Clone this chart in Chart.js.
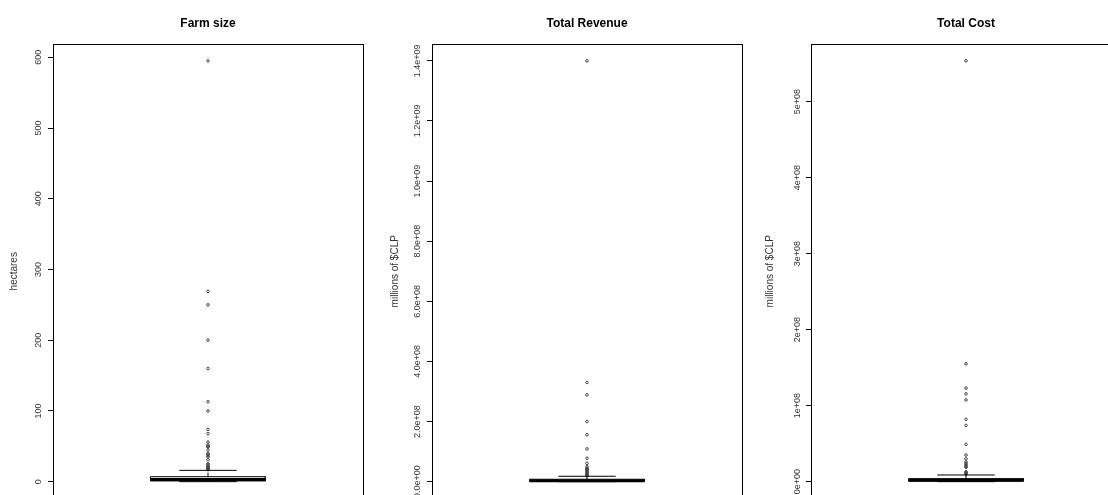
<!DOCTYPE html>
<html>
<head>
<meta charset="utf-8">
<script src="https://cdn.jsdelivr.net/npm/chart.js@4/dist/chart.umd.min.js"></script>
<style>
  html, body { margin: 0; padding: 0; background: #fff; overflow: hidden; width: 1108px; height: 495px; }
  .panel { position: absolute; top: 0; }
</style>
</head>
<body>
<canvas id="farm" class="panel"></canvas>
<canvas id="revenue" class="panel"></canvas>
<canvas id="cost" class="panel"></canvas>
<script>
// ---- data ----
const panelTitles = ['Farm size', 'Total Revenue', 'Total Cost'];
const axisTitles = ['hectares', 'millions of $CLP', 'millions of $CLP'];

// five-number summaries: lower whisker, Q1, median, Q3, upper whisker
const farmSizeStats = [0, 1, 3, 7, 16];
const farmSizeOutliers = [595, 269, 250, 200, 160, 113, 100, 74, 68, 56, 52, 50, 49, 45, 40, 39, 37, 35, 31, 25, 24, 22, 21, 20, 19, 18, 17];
const farmSizeTicks = [0, 100, 200, 300, 400, 500, 600];
const farmSizeTickLabels = ['0', '100', '200', '300', '400', '500', '600'];

const revenueStats = [0, 8e5, 3e6, 8e6, 1.8e7];
const revenueOutliers = [1.4e9, 3.3e8, 2.89e8, 2.0e8, 1.56e8, 1.09e8, 7.8e7, 6.1e7, 5.0e7, 4.5e7, 4.2e7, 4.0e7, 3.7e7, 3.4e7, 3.1e7, 2.8e7, 2.5e7, 2.2e7, 2.0e7];
const revenueTicks = [0, 2e8, 4e8, 6e8, 8e8, 1e9, 1.2e9, 1.4e9];
const revenueTickLabels = ['0.0e+00', '2.0e+08', '4.0e+08', '6.0e+08', '8.0e+08', '1.0e+09', '1.2e+09', '1.4e+09'];

const costStats = [0, 7e5, 1.8e6, 4e6, 8.8e6];
const costOutliers = [5.535e8, 1.55e8, 1.23e8, 1.155e8, 1.075e8, 8.2e7, 7.4e7, 4.9e7, 3.5e7, 3.0e7, 2.6e7, 2.4e7, 2.2e7, 2.0e7, 1.9e7, 1.3e7, 1.2e7, 1.1e7, 1.0e7];
const costTicks = [0, 1e8, 2e8, 3e8, 4e8, 5e8];
const costTickLabels = ['0e+00', '1e+08', '2e+08', '3e+08', '4e+08', '5e+08'];

// ---- layout ----
const FONT = "'Liberation Sans', Arial, sans-serif";
const AXIS_W = 60, PLOT_W = 310, PAD_R = 10, CANVAS_H = 540;
const PLOT_BOTTOM = 498.5;
const TICK_LEN = 5;
const BOX_HALF = 0.2, CAP_HALF = 0.1;   // box / staple half widths in x units (x range 0.46..1.54)

const panels = [
  { id: 'farm',    plotLeft: 53,  titleOffset: 38.3, labelOffset: 14, stats: farmSizeStats, outliers: farmSizeOutliers, ticks: farmSizeTicks, labels: farmSizeTickLabels },
  { id: 'revenue', plotLeft: 432, titleOffset: 37,   labelOffset: 14, stats: revenueStats,  outliers: revenueOutliers,  ticks: revenueTicks,  labels: revenueTickLabels },
  { id: 'cost',    plotLeft: 811, titleOffset: 41,   labelOffset: 13, stats: costStats,     outliers: costOutliers,     ticks: costTicks,     labels: costTickLabels }
];

const measureCtx = document.createElement('canvas').getContext('2d');
measureCtx.font = '9px ' + FONT;

function segment(points, extra) {
  return Object.assign({
    type: 'scatter', showLine: true, data: points,
    borderColor: '#000', borderWidth: 1, pointRadius: 0, fill: false, tension: 0, borderCapStyle: 'butt'
  }, extra || {});
}

function boxplotDatasets(stats, outliers) {
  const [lo, q1, med, q3, hi] = stats;
  return [
    segment([{x: 1 - BOX_HALF, y: q1}, {x: 1 - BOX_HALF, y: q3}, {x: 1 + BOX_HALF, y: q3}, {x: 1 + BOX_HALF, y: q1}, {x: 1 - BOX_HALF, y: q1}]),
    segment([{x: 1 - BOX_HALF, y: med}, {x: 1 + BOX_HALF, y: med}], {borderWidth: 3}),
    segment([{x: 1, y: q3}, {x: 1, y: hi}], {borderDash: [4, 4]}),
    segment([{x: 1, y: q1}, {x: 1, y: lo}], {borderDash: [4, 4]}),
    segment([{x: 1 - CAP_HALF, y: hi}, {x: 1 + CAP_HALF, y: hi}]),
    segment([{x: 1 - CAP_HALF, y: lo}, {x: 1 + CAP_HALF, y: lo}]),
    {
      type: 'scatter', showLine: false,
      data: outliers.map(v => ({x: 1, y: v})),
      pointStyle: 'circle', pointRadius: 1.3, borderWidth: 1,
      borderColor: '#444', backgroundColor: 'rgba(0,0,0,0)'
    }
  ];
}

function frameAxis(position, min, max, horizontal) {
  return {
    type: 'linear', position, min, max, display: true,
    ticks: { display: false },
    grid: { display: false },
    border: { display: true, color: '#000', width: 1 },
    afterFit: s => { if (horizontal) s.height = 0; else s.width = 0; }
  };
}

panels.forEach((p, i) => {
  const all = p.stats.concat(p.outliers);
  const lo = Math.min(...all), hi = Math.max(...all);
  const ext = 0.04 * (hi - lo);
  const yMin = lo - ext, yMax = hi + ext;

  const widest = Math.max(...p.labels.map(t => measureCtx.measureText(t).width));
  const tickPad = p.labelOffset - TICK_LEN - widest / 2;
  const titlePad = AXIS_W - p.titleOffset - 6;

  const canvas = document.getElementById(p.id);
  canvas.width = AXIS_W + PLOT_W + PAD_R;
  canvas.height = CANVAS_H;
  canvas.style.left = (p.plotLeft - AXIS_W) + 'px';

  new Chart(canvas, {
    type: 'scatter',
    data: { datasets: boxplotDatasets(p.stats, p.outliers) },
    options: {
      responsive: false, animation: false, events: [],
      layout: { padding: { left: 0, top: 0, right: PAD_R, bottom: CANVAS_H - PLOT_BOTTOM } },
      plugins: {
        legend: { display: false },
        tooltip: { enabled: false },
        title: {
          display: true, text: panelTitles[i], fullSize: false, color: '#000',
          font: { family: FONT, size: 12, weight: 'bold' },
          padding: { top: 16.6, bottom: 13 }
        }
      },
      scales: {
        x: frameAxis('top', 0.46, 1.54, true),
        xB: frameAxis('bottom', 0.46, 1.54, true),
        yR: frameAxis('right', yMin, yMax, false),
        y: {
          type: 'linear', position: 'left', min: yMin, max: yMax,
          afterBuildTicks: s => { s.ticks = p.ticks.map(v => ({value: v})); },
          afterFit: s => { s.width = AXIS_W; },
          ticks: {
            callback: (v, idx) => p.labels[idx],
            autoSkip: false, minRotation: 90, maxRotation: 90, crossAlign: 'center',
            padding: tickPad, color: '#333', font: { family: FONT, size: 9 }
          },
          grid: { drawOnChartArea: false, drawTicks: true, tickLength: TICK_LEN, color: '#000' },
          border: { display: true, color: '#000', width: 1 },
          title: {
            display: true, text: axisTitles[i], color: '#333',
            font: { family: FONT, size: 10 }, padding: { top: titlePad, bottom: 0 }
          }
        }
      }
    }
  });
});
</script>
</body>
</html>
